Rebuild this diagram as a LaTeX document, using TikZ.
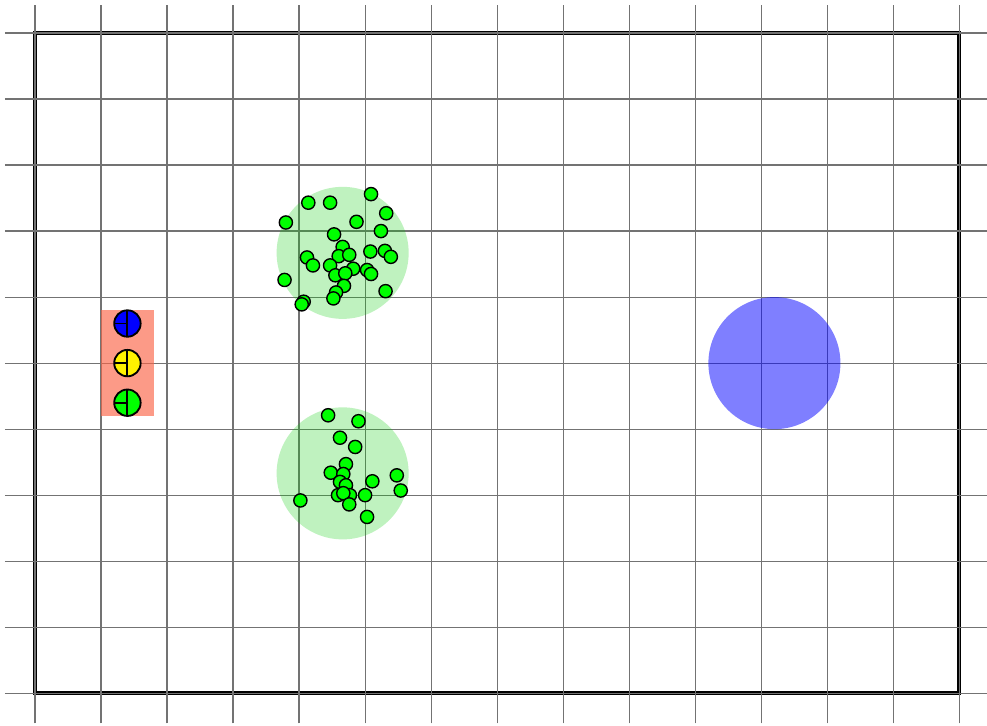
\documentclass[tikz,border=0pt]{standalone}
\usepackage{tikz}
\usetikzlibrary{calc}
\usepackage{xcolor}
\definecolor{basecol}{RGB}{250,100,70}
\definecolor{zonecol}{RGB}{0,205,0}
\definecolor{goalcol}{RGB}{0,0,255}
\definecolor{dotcol}{RGB}{0,255,0}

\tikzset{
  gridline/.style={draw=black!55, line width=0.5pt},
  arena/.style={draw=black, line width=1.7pt},
  zone/.style={fill=zonecol, fill opacity=0.25},
  goal/.style={fill=goalcol, fill opacity=0.5},
  dot/.style={draw=black, line width=0.6pt, fill=dotcol},
  robot/.style={draw=black, line width=0.8pt},
}

\begin{document}
\begin{tikzpicture}
  \useasboundingbox (-0.53,-0.485) rectangle (14.42,10.5);

  % arena border
  \draw[arena] (0,0) rectangle (14,10);

  % grid
  \foreach \x in {0,...,14}
    \draw[gridline] (\x,-0.455) -- (\x,10.42);
  \foreach \y in {0,...,10}
    \draw[gridline] (-0.455,\y) -- (14.42,\y);

  % goal and zones
  \fill[goal] (11.2,5) circle (1);
  \fill[zone] (4.66,6.67) circle (1);
  \fill[zone] (4.66,3.33) circle (1);

  % base with robots
  \fill[basecol, fill opacity=0.65] (1.0,4.2) rectangle (1.8,5.8);
  \foreach \ry/\rc in {5.6/blue, 5.0/yellow, 4.4/green} {
    \filldraw[robot, fill=\rc] (1.4,\ry) circle (0.2);
    \draw[robot] (1.4,\ry+0.2) -- (1.4,\ry-0.2);
    \draw[robot] (1.2,\ry) -- (1.4,\ry);
  }

  % items, upper zone
  \foreach \x/\y in {5.09/7.56, 4.14/7.43, 4.47/7.43, 5.32/7.27, 3.80/7.13,
                     4.87/7.14, 5.24/7.00, 4.53/6.95, 4.66/6.76, 5.08/6.69,
                     5.30/6.70, 5.39/6.61, 4.12/6.60, 4.21/6.48, 4.60/6.62,
                     4.76/6.64, 4.47/6.48, 4.82/6.43, 4.55/6.33, 4.70/6.36,
                     4.68/6.17, 4.56/6.07, 4.52/5.98, 5.03/6.41, 5.09/6.35,
                     5.31/6.09, 3.78/6.26, 4.07/5.93, 4.04/5.89}
    \filldraw[dot] (\x,\y) circle (0.1);

  % items, lower zone
  \foreach \x/\y in {4.44/4.21, 4.90/4.12, 4.62/3.87, 4.85/3.73, 4.71/3.47,
                     4.48/3.34, 4.67/3.32, 4.62/3.20, 4.71/3.15, 5.11/3.21,
                     5.48/3.30, 5.54/3.07, 4.59/3.00, 4.77/3.00, 4.67/3.03,
                     4.76/2.86, 5.00/3.00, 5.03/2.67, 4.02/2.92}
    \filldraw[dot] (\x,\y) circle (0.1);
\end{tikzpicture}
\end{document}
